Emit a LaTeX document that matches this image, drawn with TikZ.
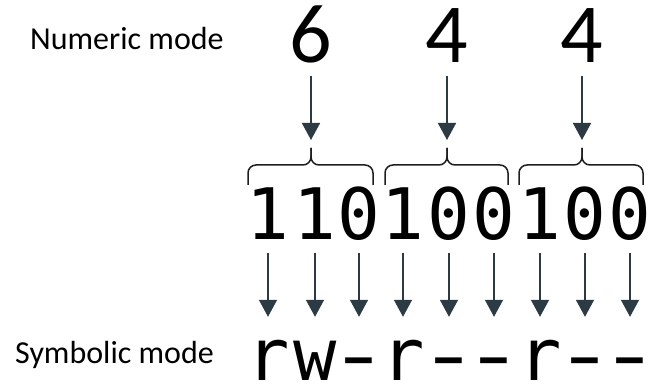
\documentclass[tikz,border=0pt]{standalone}
\usepackage{graphicx}
\usepackage{fontspec}
\setmainfont{Carlito}
\newfontfamily\monof{DejaVu Sans Mono}
\newfontfamily\labf{Carlito}
\usetikzlibrary{arrows.meta}
\definecolor{arrowc}{HTML}{2C3B43}
\definecolor{bracec}{HTML}{1E1E1E}
\newcommand\mydash{\makebox[30pt]{\scalebox{1.45}[1]{-}}}
\begin{document}
\begin{tikzpicture}[x=1pt,y=-1pt,
  lbl/.style={inner sep=0pt, anchor=base west, font=\labf\fontsize{32}{40}\selectfont},
  octal/.style={inner sep=0pt, anchor=base, font=\labf\fontsize{84}{90}\selectfont, text height=53pt, text depth=0pt},
  bit/.style={inner sep=0pt, anchor=base, font=\monof\fontsize{71}{80}\selectfont, text height=52pt, text depth=0pt},
  sym/.style={inner sep=0pt, anchor=base, font=\monof\fontsize{72}{80}\selectfont, text height=39pt, text depth=0pt},
  arr/.style={draw=arrowc, line width=1.6pt, -{Triangle[width=18pt,length=17pt]}},
  bracepath/.style={draw=bracec, line width=1.5pt, rounded corners=8pt},
]
\useasboundingbox (0,0) rectangle (649,387);

% labels
\node[lbl] (numlbl) at (30,50) {Numeric mode};
\node[lbl] (symlbl) at (15,364) {Symbolic mode};

% octal digits
\node[octal] (o1) at (311,63) {6};
\node[octal] (o2) at (447,63) {4};
\node[octal] (o3) at (582,63) {4};

% brace tips
\coordinate (t1) at (311,148);
\coordinate (t2) at (447,148);
\coordinate (t3) at (582,148);

% braces
\foreach \L/\C/\R in {248/311/373, 385/447/508, 519/582/643}{
  \draw[bracepath] (\L,185) |- (\C,165) -- (\C,148);
  \draw[bracepath] (\R,185) |- (\C,165) -- (\C,148);
}

% top arrows
\foreach \i in {1,2,3}
  \draw[arr, shorten <=13pt, shorten >=8pt] (o\i.south) -- (t\i);

% bits and symbols
\foreach \x/\b/\s [count=\i] in {268/1/r, 315/1/w, 359/0/\mydash, 403/1/r, 449/0/\mydash, 494/0/\mydash, 540/1/r, 585/0/\mydash, 630/0/\mydash}{
  \node[bit] (d\i) at (\x,240) {\b};
  \node[sym] (s\i) at (\x,381) {\s};
}

% bottom arrows
\foreach \i in {1,...,9}
  \draw[arr, shorten <=13pt, shorten >=25pt] (d\i.south) -- (s\i.north);
\end{tikzpicture}
\end{document}
